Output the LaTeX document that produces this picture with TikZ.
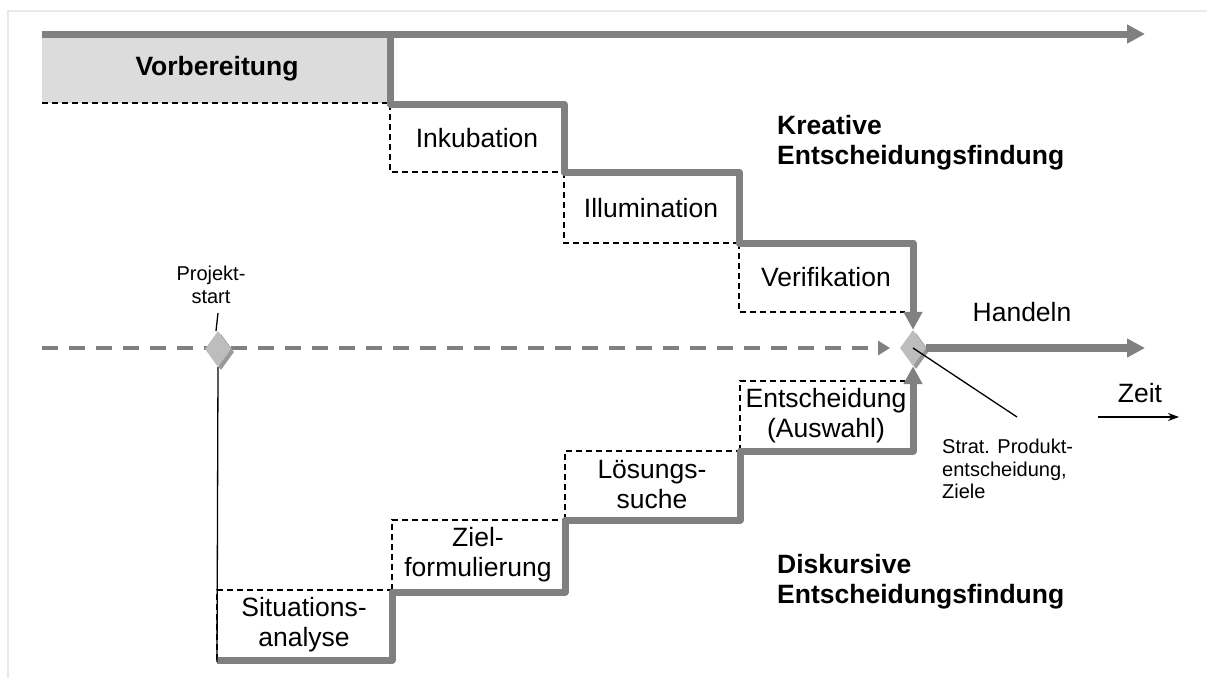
\documentclass[tikz,border=0pt]{standalone}
\usepackage{fontspec}
\setmainfont{Liberation Sans}
\usetikzlibrary{arrows.meta,shapes.geometric}
\definecolor{stepgray}{HTML}{808080}
\definecolor{prepfill}{HTML}{DCDCDC}
\definecolor{framegray}{HTML}{EAEAEA}
\definecolor{diamlight}{HTML}{BDBDBD}
\definecolor{diamdark}{HTML}{999999}

\begin{document}
\begin{tikzpicture}[x=1pt,y=-1pt,
  phase/.style={stepgray,line width=7pt,line join=round},
  bigtip/.style={-{Triangle[length=18pt,width=18pt]}},
  boxedge/.style={black,line width=1.4pt,dash pattern=on 6pt off 4pt},
  lbl/.style={font=\fontsize{26.5}{30}\selectfont,align=center,inner sep=0pt},
  blbl/.style={font=\fontsize{26.5}{30}\selectfont\bfseries,align=left,inner sep=0pt},
  slbl/.style={font=\fontsize{20}{22.5}\selectfont,inner sep=0pt},
  leader/.style={black,line width=1.3pt},
  milestone/.style={diamond,draw=none,fill=diamlight,minimum width=26pt,minimum height=36pt,inner sep=0pt}
]
\useasboundingbox (0,0) rectangle (1207,678);

% outer frame
\draw[framegray,line width=2pt] (1207,11) -- (8,11) -- (8,678);

% preparation band
\fill[prepfill] (42,34) rectangle (390,103);
\draw[boxedge] (42,103) -- (390,103);

% creative phase boxes (dashed left and bottom edges)
\draw[boxedge] (390,104) -- (390,172) -- (564,172);
\draw[boxedge] (564,172) -- (564,243) -- (739,243);
\draw[boxedge] (739,243) -- (739,312) -- (905,312);

% discursive phase boxes (dashed left and top edges)
\draw[boxedge] (217,660) -- (217,590) -- (392,590);
\draw[boxedge] (392,590) -- (392,520) -- (565,520);
\draw[boxedge] (565,520) -- (565,451) -- (740,451);
\draw[boxedge] (740,451) -- (740,381) -- (905,381);

% time axis of the project (dashed)
\coordinate (axstart) at (42,348);
\coordinate (axend) at (890,348);
\draw[stepgray,line width=4.5pt,dash pattern=on 16pt off 11pt,-{Triangle[length=12pt,width=14pt]}] (axstart) -- (axend);

% milestones
\node[milestone,fill=diamdark] (d1s) at (221,352) {};
\node[milestone] (d1) at (218,349) {};
\node[milestone,fill=diamdark] (d2s) at (916,351) {};
\node[milestone] (d2) at (913,348) {};

% top arrow and creative staircase
\coordinate (top) at (42,34);
\coordinate (topend) at (1145,34);
\draw[phase,bigtip] (top) -- (topend);
\coordinate (c0) at (390,34);
\coordinate (c1) at (390,104);
\coordinate (c2) at (564,104);
\coordinate (c3) at (564,172);
\coordinate (c4) at (739,172);
\coordinate (c5) at (739,243);
\coordinate (c6) at (913,243);
\draw[phase,bigtip] (c0) -- (c1) -- (c2) -- (c3) -- (c4) -- (c5) -- (c6) -- (d2.north);

% discursive staircase
\coordinate (s0) at (217,660);
\coordinate (s1) at (392,660);
\coordinate (s2) at (392,592);
\coordinate (s3) at (565,592);
\coordinate (s4) at (565,520);
\coordinate (s5) at (740,520);
\coordinate (s6) at (740,451);
\coordinate (s7) at (913,451);
\draw[phase,bigtip] (s0) -- (s1) -- (s2) -- (s3) -- (s4) -- (s5) -- (s6) -- (s7) -- (d2.south);

% acting arrow
\coordinate (handend) at (1145,348);
\draw[phase,line width=8pt,bigtip] (d2.east) -- (handend);

% phase labels
\node[blbl,align=center] (vorb) at (217,69) {Vorbereitung};
\node[lbl] (inku) at (477,138) {Inkubation};
\node[lbl] (illu) at (651,208) {Illumination};
\node[lbl] (veri) at (826,277) {Verifikation};
\node[lbl] (situ) at (304,625) {Situations-\\analyse};
\node[lbl] (ziel) at (478,555) {Ziel-\\formulierung};
\node[lbl] (loes) at (652,485) {Lösungs-\\suche};
\node[lbl] (ents) at (826,416) {Entscheidung\\(Auswahl)};

\node[blbl,anchor=west] (krea) at (777,143) {Kreative\\Entscheidungsfindung};
\node[blbl,anchor=west] (disk) at (777,582) {Diskursive\\Entscheidungsfindung};

\node[lbl] (hand) at (1022,312) {Handeln};
\node[lbl] (zeit) at (1140,393) {Zeit};
\coordinate (zeit0) at (1098,417);
\coordinate (zeit1) at (1179,417);
\draw[leader,-{Stealth[length=11pt,width=8pt]}] (zeit0) -- (zeit1);

% milestone notes
\node[slbl,align=center] (proj) at (211,285) {Projekt-\\start};
\coordinate (projtick) at (218,313);
\draw[leader] (projtick) -- (216,331);
\coordinate (projfoot) at (217,662);
\draw[leader] (d1.south) -- (projfoot);

\node[slbl,align=left,anchor=north west] (strat) at (942,439) {Strat. Produkt-\\entscheidung,\\Ziele};
\coordinate (stratpin) at (1017,417);
\draw[leader] (d2.center) -- (stratpin);

\end{tikzpicture}
\end{document}
